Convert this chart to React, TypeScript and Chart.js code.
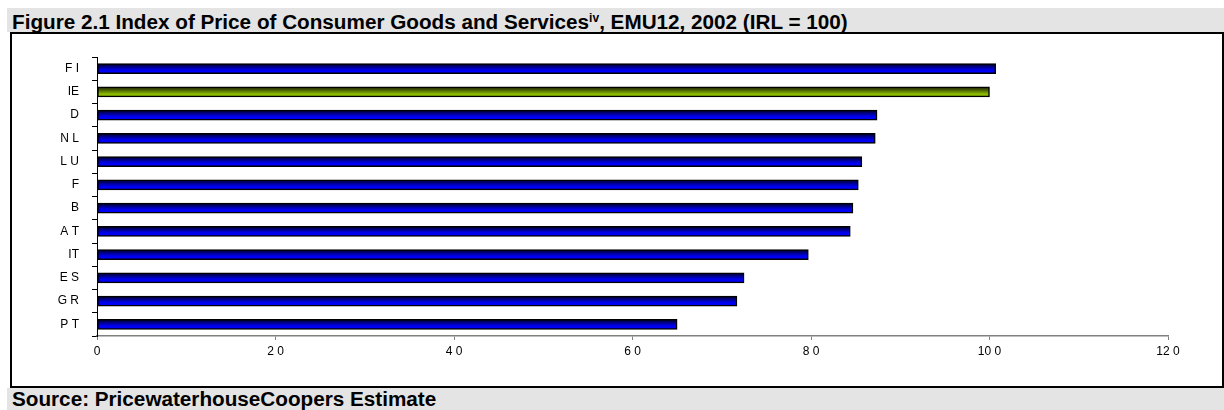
import React, { useEffect, useRef } from "react";
import { Chart, registerables } from "chart.js";

Chart.register(...registerables);

// ---- data ----
const categories = ["F I", "IE", "D", "N L", "L U", "F", "B", "A T", "IT", "E S", "G R", "P T"];
const priceIndex = [100.7, 100, 87.4, 87.2, 85.7, 85.3, 84.7, 84.4, 79.7, 72.5, 71.7, 65.0];
const highlightCategory = "IE";
const xTickLabels = ["0", "2 0", "4 0", "6 0", "8 0", "10 0", "12 0"];
const xMin = 0;
const xMax = 120;
const xStep = 20;

const titleMain = "Figure 2.1 Index of Price of Consumer Goods and Services";
const titleSup = "iv";
const titleRest = ", EMU12, 2002 (IRL = 100)";
const sourceText = "Source: PricewaterhouseCoopers Estimate";

const FONT = "'Liberation Sans', Arial, Helvetica, sans-serif";
const BAR_THICK = 10;

function barFill(ctx: any) {
  const chart = ctx.chart;
  const isHi = categories[ctx.dataIndex] === highlightCategory;
  const solid = isHi ? "#99cc00" : "#0000ff";
  const yScale = chart.scales && chart.scales.y;
  if (!chart.chartArea || !yScale || ctx.dataIndex == null) return solid;
  const cy = yScale.getPixelForValue(ctx.dataIndex);
  if (!isFinite(cy)) return solid;
  const g = chart.ctx.createLinearGradient(0, cy - BAR_THICK / 2, 0, cy + BAR_THICK / 2);
  if (isHi) {
    g.addColorStop(0, "#1a1a00");
    g.addColorStop(0.35, "#4d6600");
    g.addColorStop(0.7, "#88b800");
    g.addColorStop(1, "#99cc00");
  } else {
    g.addColorStop(0, "#000020");
    g.addColorStop(0.35, "#000090");
    g.addColorStop(0.65, "#0000f0");
    g.addColorStop(1, "#0000ff");
  }
  return g;
}

export default function App() {
  const canvasRef = useRef<HTMLCanvasElement | null>(null);

  useEffect(() => {
    const canvas = canvasRef.current;
    if (!canvas) return;
    const chart = new Chart(canvas, {
      type: "bar",
      data: {
        labels: categories,
        datasets: [
          {
            data: priceIndex,
            backgroundColor: barFill as any,
            borderColor: "#000000",
            borderWidth: 1.5,
            borderSkipped: false,
            barThickness: BAR_THICK,
          },
        ],
      },
      options: {
        indexAxis: "y",
        animation: false,
        responsive: false,
        maintainAspectRatio: false,
        devicePixelRatio: 1,
        layout: { padding: { left: 0, top: 23, right: 54, bottom: 0 } },
        plugins: {
          legend: { display: false },
          tooltip: { enabled: false },
          title: { display: false },
        },
        scales: {
          x: {
            type: "linear",
            min: xMin,
            max: xMax,
            afterFit: (s: any) => {
              s.height = 50;
            },
            ticks: {
              stepSize: xStep,
              color: "#000000",
              font: { family: FONT, size: 12 },
              padding: 4,
              maxRotation: 0,
              autoSkip: false,
              callback: (_v: any, i: number) => xTickLabels[i],
            },
            grid: {
              drawOnChartArea: false,
              drawTicks: true,
              tickLength: 4,
              color: "#808080",
              lineWidth: 1,
            },
            border: { display: true, color: "#808080", width: 1.5 },
          },
          y: {
            type: "category",
            afterFit: (s: any) => {
              s.width = 85;
            },
            ticks: {
              color: "#000000",
              font: { family: FONT, size: 12 },
              padding: 13,
              autoSkip: false,
            },
            grid: {
              offset: true,
              drawOnChartArea: false,
              drawTicks: true,
              tickLength: 5,
              color: "#000000",
              lineWidth: 1,
            },
            border: { display: true, color: "#000000", width: 1 },
          },
        },
      },
    });
    return () => chart.destroy();
  }, []);

  return (
    <div
      style={{
        position: "fixed",
        left: 0,
        top: 0,
        width: 1224,
        height: 410,
        background: "#ffffff",
        overflow: "hidden",
        fontFamily: FONT,
      }}
    >
      <div style={{ position: "absolute", left: 7, top: 8, width: 1217, height: 24, background: "#e4e4e4" }} />
      <div
        style={{
          position: "absolute",
          left: 12,
          top: 12,
          fontSize: 20.7,
          lineHeight: "20px",
          fontWeight: "bold",
          color: "#000",
          whiteSpace: "nowrap",
        }}
      >
        {titleMain}
        <sup style={{ fontSize: 12, verticalAlign: "7px", lineHeight: 0 }}>{titleSup}</sup>
        {titleRest}
      </div>
      <div
        style={{
          position: "absolute",
          left: 10,
          top: 32,
          width: 1214,
          height: 356,
          boxSizing: "border-box",
          border: "2px solid #000",
          background: "#ffffff",
        }}
      />
      <canvas
        ref={canvasRef}
        width={1210}
        height={352}
        style={{ position: "absolute", left: 12, top: 34, width: 1210, height: 352 }}
      />
      <div style={{ position: "absolute", left: 7, top: 388, width: 1217, height: 22, background: "#e4e4e4" }} />
      <div
        style={{
          position: "absolute",
          left: 12,
          top: 389,
          fontSize: 20.7,
          lineHeight: "20px",
          fontWeight: "bold",
          color: "#000",
          whiteSpace: "nowrap",
        }}
      >
        {sourceText}
      </div>
    </div>
  );
}
